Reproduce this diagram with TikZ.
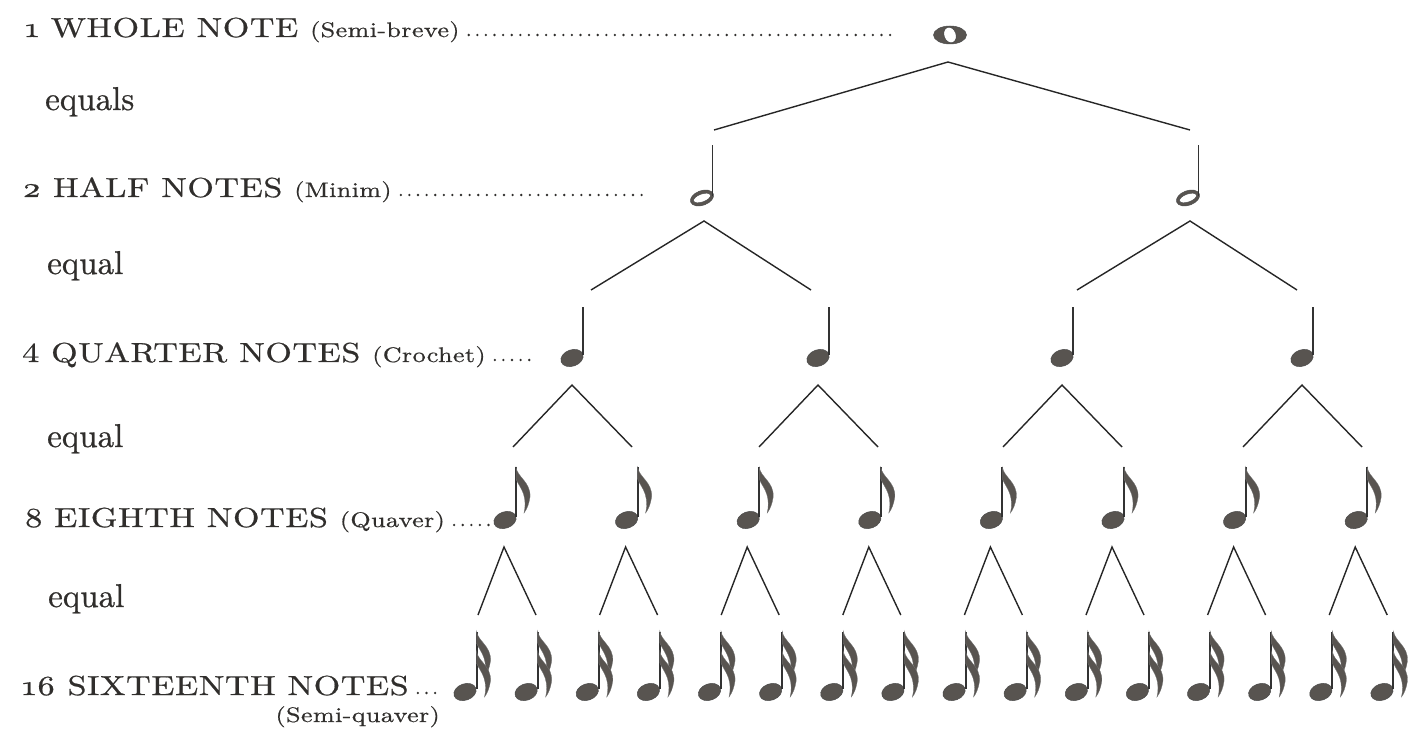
\documentclass[tikz,border=0pt]{standalone}
\usepackage{fontspec}
\usepackage{tikz}
\newfontfamily\notefont{lmroman10-regular.otf}[FakeStretch=1.24,LetterSpace=2,FakeBold=0.7]
\newfontfamily\eqfont{lmroman10-regular.otf}[FakeBold=0.7]
\newcommand{\osf}[1]{{\addfontfeatures{Numbers=OldStyle}#1}}
\newcommand{\subname}[1]{{\fontsize{21}{24}\selectfont #1}}
\definecolor{ink}{RGB}{48,46,44}
\definecolor{headgray}{RGB}{88,84,80}

\begin{document}
\begin{tikzpicture}[
    x=1pt, y=-1pt,
    caps/.style={
        font=\notefont\fontsize{27.5}{30}\selectfont,
        text=ink, inner sep=0pt, anchor=base west
    },
    eqlabel/.style={
        font=\eqfont\fontsize{33}{36}\selectfont,
        text=ink, inner sep=0pt, anchor=base west
    },
    leader/.style={ink,line width=2.6pt,line cap=round,dash pattern=on 0pt off 8.6pt},
    branch/.style={line width=1.4pt,black!85},
    notestem/.style={line width=2pt,black!80},
    notehead/.style={fill=headgray,draw=black!70,line width=0.5pt},
    flag/.pic={
        \fill[headgray,draw=black!55,line width=0.3pt] (0,0) .. controls (1,10) and (15,15) .. (14,30)
            .. controls (13,37) and (11,42) .. (8,46) .. controls (9.5,40) and (9.5,33) .. (7.5,27)
            .. controls (5.5,21) and (2,17) .. (0,12) -- cycle;
    },
    whole/.pic={
        \path[notehead,even odd rule] (0,0) ellipse (16.5pt and 9pt) {[rotate=20] (0,0) ellipse (6pt and 8pt)};
    },
    half/.pic={
        \path[notehead,even odd rule,rotate=20] (0,0) ellipse (12pt and 7.3pt) (0,0) ellipse (9pt and 4pt);
        \draw[notestem,line width=1.6pt] (10.6,-2) -- (10.6,-53);
    },
    quarter/.pic={
        \path[notehead,rotate=20] (0,0) ellipse (11.5pt and 8.2pt);
        \draw[notestem] (10.8,-3) -- (10.8,-51);
    },
    eighth/.pic={
        \path[notehead,rotate=20] (0,0) ellipse (11.5pt and 8.2pt);
        \draw[notestem] (11,-3) -- (11,-53);
        \pic at (11,-53) {flag};
    },
    sixteenth/.pic={
        \path[notehead,rotate=20] (0,0) ellipse (11.5pt and 8.2pt);
        \draw[notestem] (11.5,-3) -- (11.5,-60);
        \pic at (11.5,-61) {flag};
        \pic at (11.5,-41) {flag};
    }
]
\useasboundingbox (0,0) rectangle (1425,751);

% row labels
\node[caps] (whole-lab) at (25,37) {\osf{1} WHOLE NOTE \subname{(Semi-breve)}};
\node[eqlabel] (eq1) at (45,110) {equals};
\node[caps] (half-lab) at (22,197) {\osf{2} HALF NOTES \subname{(Minim)}};
\node[eqlabel] (eq2) at (47,274) {equal};
\node[caps] (quarter-lab) at (22,362) {4 QUARTER NOTES \subname{(Crochet)}};
\node[eqlabel] (eq3) at (47,447) {equal};
\node[caps] (eighth-lab) at (25,527) {8 EIGHTH NOTES \subname{(Quaver)}};
\node[eqlabel] (eq4) at (48,607) {equal};
\node[caps] (sixteenth-lab) at (22,695) {\osf{16} SIXTEENTH NOTES};
\node[caps,anchor=base east] (sixteenth-sub) at (440,722) {\subname{(Semi-quaver)}};

% dotted leaders
\coordinate (whole-dots) at (893,35);
\coordinate (half-dots) at (650,195);
\coordinate (quarter-dots) at (535,360);
\coordinate (eighth-dots) at (497,525);
\coordinate (sixteenth-dots) at (440,693);
\foreach \row in {whole,half,quarter,eighth,sixteenth}
    \draw[leader] ([shift={(9,-2)}]\row-lab.base east) -- (\row-dots);

% notes and branches
\pic at (950,35) {whole};
\coordinate (w-top) at (948,62);
\coordinate (w-l) at (714,130);
\coordinate (w-r) at (1190,130);
\draw[branch] (w-l) -- (w-top) -- (w-r);

\foreach \px [count=\k] in {702,1188} {
    \pic at (\px,198) {half};
    \coordinate (h\k-top) at (\px+2,221);
    \coordinate (h\k-l) at (\px-111,290);
    \coordinate (h\k-r) at (\px+109,290);
    \draw[branch] (h\k-l) -- (h\k-top) -- (h\k-r);
}

\foreach \px [count=\k] in {572,818,1062,1302} {
    \pic at (\px,358) {quarter};
    \coordinate (q\k-top) at (\px,385);
    \coordinate (q\k-l) at (\px-59,447);
    \coordinate (q\k-r) at (\px+60,447);
    \draw[branch] (q\k-l) -- (q\k-top) -- (q\k-r);
}

\foreach \i [evaluate=\i as \px using 505+121.6*\i] in {0,...,7} {
    \pic at (\px,520) {eighth};
    \coordinate (e\i-top) at (\px-1,547);
    \coordinate (e\i-l) at (\px-27,615);
    \coordinate (e\i-r) at (\px+31,615);
    \draw[branch] (e\i-l) -- (e\i-top) -- (e\i-r);
}

\foreach \i [evaluate=\i as \px using 465+61.13*\i] in {0,...,15}
    \pic at (\px,692) {sixteenth};
\end{tikzpicture}
\end{document}
